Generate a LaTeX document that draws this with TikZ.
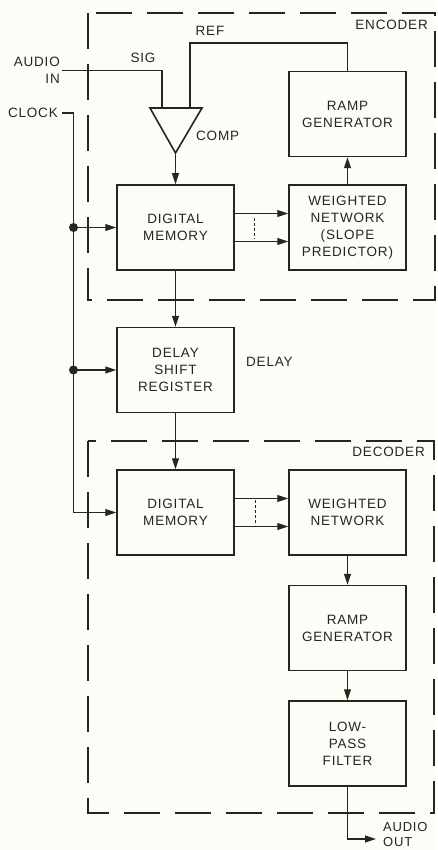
\documentclass[tikz,border=0pt]{standalone}
\usepackage{fontspec}
\setmainfont{Liberation Sans}[LetterSpace=6]
\usetikzlibrary{arrows.meta}
\definecolor{ink}{RGB}{38,38,28}
\definecolor{paper}{RGB}{253,253,248}
\begin{document}
\begin{tikzpicture}[x=1pt,y=-1pt,
  font=\fontsize{13.5}{17}\selectfont,
  blk/.style={draw=ink, line width=1.5pt, minimum width=117pt, minimum height=85pt, inner sep=0pt, align=center, text=ink},
  lbl/.style={text=ink, inner sep=0pt},
  wire/.style={draw=ink, line width=1.1pt},
  arr/.style={wire, -{Triangle[length=11pt,width=7pt]}},
  grp/.style={draw=ink, line width=1.3pt, dash pattern=on 36pt off 15pt},
  bus/.style={draw=ink, line width=0.6pt, dash pattern=on 3pt off 2pt},
  dot/.style={circle, fill=ink, inner sep=0pt, minimum size=9pt}]
\fill[paper] (0,0) rectangle (437,850);
\useasboundingbox (0,0) rectangle (437,850);

% group frames
\draw[grp] (88,13) rectangle (435,300);
\draw[grp] (88,441) rectangle (434,813);

% blocks
\node[blk] (eramp) at (347.5,114) {RAMP\\GENERATOR};
\node[blk] (ewn) at (347.5,227.5) {WEIGHTED\\NETWORK\\(SLOPE\\PREDICTOR)};
\node[blk] (edm) at (175.5,227.5) {DIGITAL\\MEMORY};
\node[blk] (dsr) at (175.5,370) {DELAY\\SHIFT\\REGISTER};
\node[blk] (ddm) at (175.5,512.5) {DIGITAL\\MEMORY};
\node[blk] (dwn) at (347.5,512.5) {WEIGHTED\\NETWORK};
\node[blk] (dramp) at (347.5,628) {RAMP\\GENERATOR};
\node[blk] (lpf) at (347.5,743.5) {LOW-\\PASS\\FILTER};

% comparator
\coordinate (cL) at (150,108);
\coordinate (cR) at (202,108);
\coordinate (cA) at (175.5,153);
\coordinate (sigin) at (162,108);
\coordinate (refin) at (190,108);
\draw[draw=ink, line width=1.6pt, fill=paper, line join=miter] (cL) -- (cR) -- (cA) -- cycle;

% labels
\node[lbl, align=right, anchor=east] (ainl) at (60,70.5) {AUDIO\\IN};
\node[lbl, anchor=east] (clkl) at (58,112.5) {CLOCK};
\node[lbl] (sigl) at (143,58) {SIG};
\node[lbl] (refl) at (210,31) {REF};
\node[lbl, anchor=west] (compl) at (196,136) {COMP};
\node[lbl, anchor=east] (encl) at (428,25) {ENCODER};
\node[lbl, anchor=west] (dell) at (246,362) {DELAY};
\node[lbl, anchor=east] (decl) at (425,452) {DECODER};
\node[lbl, align=left, anchor=west, font=\fontsize{13}{15.5}\selectfont] (aoutl) at (383,834.5) {AUDIO\\OUT};

% input wires
\coordinate (ain) at (62,70.5);
\draw[wire] (ain) -| (sigin);
\coordinate (refturn) at (190,43);
\draw[wire] (refin) -- (refturn) -| (eramp.north);
\draw[arr] (cA) -- (edm.north);
\draw[arr] (ewn.north) -- (eramp.south);
\draw[arr] ([yshift=14pt]edm.east) -- ([yshift=14pt]ewn.west);
\draw[arr] ([yshift=-14pt]edm.east) -- ([yshift=-14pt]ewn.west);
\draw[bus] (254.5,218) -- (254.5,239);
\draw[arr] (edm.south) -- (dsr.north);
\draw[arr] (dsr.south) -- (ddm.north);

% clock
\coordinate (clk) at (62,113);
\coordinate (cbot) at (73.5,512.5);
\draw[wire] (clk) -| (cbot);
\draw[arr] (cbot) -- (ddm.west);
\node[dot] (j1) at (73.5,227.5) {};
\node[dot] (j2) at (73.5,370) {};
\draw[arr] (j1) -- (edm.west);
\draw[arr] (j2) -- (dsr.west);

% decoder
\draw[arr] ([yshift=14pt]ddm.east) -- ([yshift=14pt]dwn.west);
\draw[arr] ([yshift=-14pt]ddm.east) -- ([yshift=-14pt]dwn.west);
\draw[bus] (255,500) -- (255,525);
\draw[arr] (dwn.south) -- (dramp.north);
\draw[arr] (dramp.south) -- (lpf.north);
\coordinate (aout) at (376,839);
\draw[arr] (lpf.south) |- (aout);
\end{tikzpicture}
\end{document}
